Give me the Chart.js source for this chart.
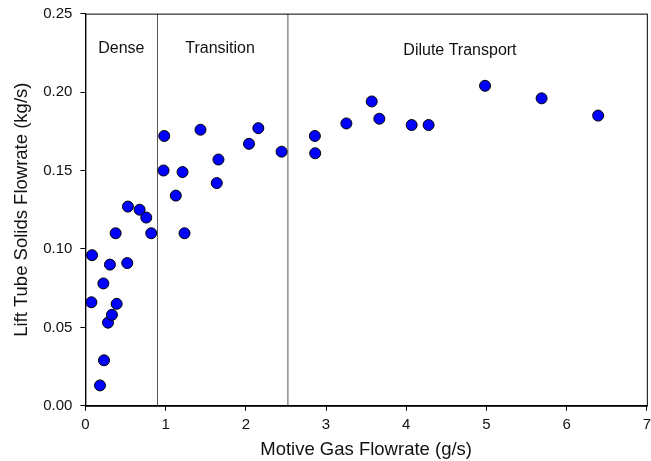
<!DOCTYPE html>
<html>
<head>
<meta charset="utf-8">
<script src="https://cdn.jsdelivr.net/npm/chart.js@4/dist/chart.umd.min.js"></script>
<style>
  html, body { margin: 0; padding: 0; background: #fff; }
  #wrap { width: 651px; height: 461px; overflow: hidden; }
</style>
</head>
<body>
<div id="wrap"><canvas id="c" width="656" height="461"></canvas></div>
<script>
// motive gas flowrate (g/s) vs lift tube solids flowrate (kg/s)
const gasFlow = [
  0.083, 0.075, 0.224, 0.232, 0.182, 0.282, 0.331, 0.306, 0.390, 0.377,
  0.522, 0.530, 0.676, 0.759, 0.821, 0.974, 1.211, 1.127, 1.236, 1.638,
  1.659, 0.983, 1.435, 2.04, 2.156, 2.446, 2.861, 2.865, 3.254, 3.570,
  3.665, 4.068, 4.279, 4.983, 5.688, 6.393
];
const solidsFlow = [
  0.096, 0.066, 0.078, 0.029, 0.013, 0.053, 0.058, 0.090, 0.065, 0.110,
  0.091, 0.127, 0.125, 0.120, 0.110, 0.150, 0.149, 0.134, 0.110, 0.142,
  0.157, 0.172, 0.176, 0.167, 0.177, 0.162, 0.172, 0.161, 0.180, 0.194,
  0.183, 0.179, 0.179, 0.204, 0.196, 0.185
];

// regime boundaries and labels
const boundaries = [0.899, 2.525];
const regimeNames = ['Dense', 'Transition', 'Dilute Transport'];
const regimeX = [0.448, 1.679, 4.67];
const regimeY = [0.228, 0.228, 0.2265];

const xRange = [0, 7];
const yRange = [0, 0.25];
const yStep = 0.05;

const font = '"Liberation Sans", Arial, sans-serif';

const points = gasFlow.map((x, i) => ({ x, y: solidsFlow[i] }));
const boundaryLines = boundaries.map(b => ({
  type: 'line',
  data: [{ x: b, y: yRange[0] }, { x: b, y: yRange[1] }],
  borderColor: '#555',
  borderWidth: 1,
  pointRadius: 0,
  order: 2
}));

// box around the plot area + regime labels
const framePlugin = {
  id: 'frame',
  afterDatasetsDraw(chart) {
    const { ctx, chartArea: a, scales } = chart;
    ctx.save();
    ctx.strokeStyle = '#000';
    ctx.lineWidth = 1;
    ctx.strokeRect(a.left + 0.5, a.top + 0.5, a.right - a.left, a.bottom - a.top);
    ctx.fillStyle = '#111';
    ctx.font = '16px ' + font;
    ctx.textAlign = 'center';
    ctx.textBaseline = 'middle';
    regimeNames.forEach((n, i) => {
      ctx.fillText(n, scales.x.getPixelForValue(regimeX[i]), scales.y.getPixelForValue(regimeY[i]));
    });
    ctx.restore();
  }
};

new Chart(document.getElementById('c'), {
  type: 'scatter',
  data: {
    datasets: [
      {
        data: points,
        backgroundColor: '#0000ff',
        borderColor: '#000',
        borderWidth: 1,
        pointRadius: 5.5,
        order: 1
      },
      ...boundaryLines
    ]
  },
  options: {
    responsive: false,
    animation: false,
    layout: { padding: { top: 3, right: 0, left: 11, bottom: 0 } },
    plugins: { legend: { display: false }, tooltip: { enabled: false } },
    scales: {
      x: {
        type: 'linear',
        min: xRange[0], max: xRange[1],
        grid: { drawOnChartArea: false, drawTicks: true, tickLength: 5, color: '#000' },
        border: { color: '#000' },
        ticks: { stepSize: 1, color: '#111', font: { family: font, size: 15 }, padding: 5 },
        title: { display: true, text: 'Motive Gas Flowrate (g/s)', color: '#111', font: { family: font, size: 18.5 }, padding: { top: 0, bottom: 0 } }
      },
      y: {
        type: 'linear',
        min: yRange[0], max: yRange[1],
        grid: { drawOnChartArea: false, drawTicks: true, tickLength: 5, color: '#000' },
        border: { color: '#000' },
        ticks: { stepSize: yStep, color: '#111', font: { family: font, size: 15, lineHeight: 0.75 }, padding: 8, callback: v => v.toFixed(2) },
        title: { display: true, text: 'Lift Tube Solids Flowrate (kg/s)', color: '#111', font: { family: font, size: 18.5 }, padding: { bottom: 2, top: 0 } }
      }
    }
  },
  plugins: [framePlugin]
});
</script>
</body>
</html>
